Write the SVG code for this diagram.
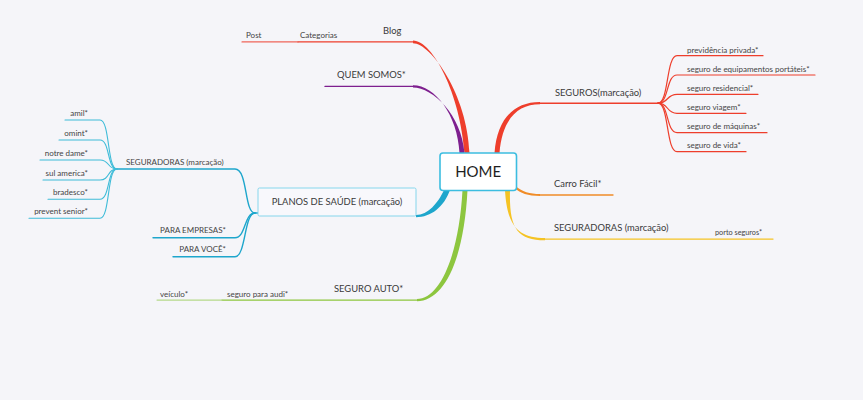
<svg xmlns="http://www.w3.org/2000/svg" width="863" height="400" viewBox="0 0 863 400">
<style>
text{font-family:Lato,"Liberation Sans",sans-serif;fill:#3a3a3a}
.m{font-size:9.4px}
.c{font-size:8px;fill:#444}
.s{font-size:7.3px;fill:#444}
.ln{fill:none;stroke-linecap:round}
.red{stroke:#ee3e2c}
.pur{stroke:#7e1f8f}
.cy{stroke:#1ea6cc}
.cyl{stroke:#3fbcd8}
.grn{stroke:#8dc63f}
.yel{stroke:#f5c324}
.org{stroke:#f08c28}
</style>
<rect width="863" height="400" fill="#f5f5f9"/>
<g id="connectors">
  <!-- main tapered branches -->
  <path d="M464.5,153 C460.5,95 433,40.6 413,40.6 L413,43.2 C431,43.2 467.5,95 469.5,153 Z" fill="#ee3e2c"/>
  <path d="M459.5,153 C457.5,115 435,85.3 413,85.3 L413,87.5 C433,87.5 461.5,115 464.5,153 Z" fill="#7e1f8f"/>
  <path d="M494.5,153 C497,120 513,102 540,102 L540,104.3 C517,104.3 502,120 499.5,153 Z" fill="#ee3e2c"/>
  <path d="M444,190 C438,203 428,215 416,215 L416,217.2 C431,217.2 444,207 450,190 Z" fill="#1ea6cc"/>
  <path d="M462.5,190 C459,255 440,299 417,299 L417,301.2 C444,301.2 464,260 467.5,190 Z" fill="#8dc63f"/>
  <path d="M505,190 C507,228 520,238 545,238 L545,240.2 C517,240.2 509,228 510,190 Z" fill="#f5c324"/>
  <path d="M515,185.5 C522,192 530,194 540,194 L540,196 C528,196 520,193 515,188.5 Z" fill="#f08c28"/>

  <!-- underlines of main nodes -->
  <path class="ln red" stroke-width="1.4" d="M413,41.9 H298"/>
  <path class="ln" stroke="#f0655a" stroke-width="1.1" d="M298,41.9 H242"/>
  <path class="ln pur" stroke-width="1.4" d="M413,86.4 H325"/>
  <path class="ln red" stroke-width="1.4" d="M540,103.2 H658"/>
  <path class="ln org" stroke-width="1.3" d="M540,195 H613"/>
  <path class="ln yel" stroke-width="1.3" d="M545,239.1 H773"/>
  <path class="ln grn" stroke-width="1.4" d="M417,300.1 H222"/>
  <path class="ln" stroke="#b5d98a" stroke-width="1.1" d="M222,300.1 H157"/>

  <!-- SEGUROS children -->
  <g class="ln red" stroke-width="1.2">
    <path d="M658,103.2 C669,103.2 666,55.7 677,55.7 H763"/>
    <path d="M658,103.2 C669,103.2 666,75 677,75 H815"/>
    <path d="M658,103.2 C669,103.2 666,94.3 677,94.3 H758"/>
    <path d="M658,103.2 C669,103.2 666,113.3 677,113.3 H746"/>
    <path d="M658,103.2 C669,103.2 666,132.7 677,132.7 H767"/>
    <path d="M658,103.2 C669,103.2 666,151.7 677,151.7 H746"/>
  </g>

  <!-- PLANOS children -->
  <g class="ln cy" stroke-width="1.4">
    <path d="M255,213 C244,213 248,169 235,169 H117"/>
    <path d="M255,213 C244,213 246,237.7 235,237.7 H153"/>
    <path d="M255,213 C244,213 246,256.7 235,256.7 H173"/>
    <path d="M255,213 H258"/>
  </g>

  <!-- SEGURADORAS (left) children -->
  <g class="ln cyl" stroke-width="1.1">
    <path d="M117,169 C107,169 110,120 100,120 H65"/>
    <path d="M117,169 C107,169 110,140 100,140 H59"/>
    <path d="M117,169 C107,169 110,160 100,160 H40"/>
    <path d="M117,169 C107,169 110,180 100,180 H43"/>
    <path d="M117,169 C107,169 110,199.3 100,199.3 H48"/>
    <path d="M117,169 C107,169 110,218.3 100,218.3 H29"/>
  </g>
</g>

<g id="home">
  <rect x="440" y="153" width="76.5" height="37.5" rx="3" fill="#ffffff" stroke="#3cbde0" stroke-width="1.6"/>
  <text x="478.2" y="177" font-size="15" text-anchor="middle" style="fill:#1e1e1e">HOME</text>
</g>

<g id="blog"><text class="m" x="383" y="34">Blog</text></g>
<g id="categorias"><text class="c" x="300" y="38">Categorias</text></g>
<g id="post"><text class="c" x="246" y="38">Post</text></g>
<g id="quem-somos"><text class="m" x="337" y="78">QUEM SOMOS*</text></g>

<g id="seguros"><text class="m" x="555" y="96">SEGUROS(marcação)</text></g>
<g id="previdencia"><text class="c" x="687" y="52.5">previdência privada*</text></g>
<g id="equipamentos"><text class="c" x="687" y="71.5">seguro de equipamentos portáteis*</text></g>
<g id="residencial"><text class="c" x="687" y="90.5">seguro residencial*</text></g>
<g id="viagem"><text class="c" x="687" y="109.5">seguro viagem*</text></g>
<g id="maquinas"><text class="c" x="687" y="128.5">seguro de máquinas*</text></g>
<g id="vida"><text class="c" x="687" y="147.5">seguro de vida*</text></g>

<g id="carro-facil"><text class="m" x="554" y="187">Carro Fácil*</text></g>
<g id="seguradoras-right"><text class="m" x="554" y="231">SEGURADORAS (marcação)</text></g>
<g id="porto"><text class="s" x="715" y="235">porto seguros*</text></g>

<g id="planos">
  <rect x="258" y="188" width="158" height="28" rx="1.5" fill="#f8f8fc" stroke="#86d6ec" stroke-width="1"/>
  <text class="m" x="337" y="205" text-anchor="middle">PLANOS DE SAÚDE (marcação)</text>
</g>
<g id="seguradoras-left"><text class="c" x="126" y="165">SEGURADORAS (marcação)</text></g>
<g id="para-empresas"><text class="c" x="226" y="233" text-anchor="end">PARA EMPRESAS*</text></g>
<g id="para-voce"><text class="c" x="226" y="252" text-anchor="end">PARA VOCÊ*</text></g>
<g id="amil"><text class="c" x="88" y="116" text-anchor="end">amil*</text></g>
<g id="omint"><text class="c" x="88" y="136" text-anchor="end">omint*</text></g>
<g id="notre-dame"><text class="c" x="88" y="156" text-anchor="end">notre dame*</text></g>
<g id="sul-america"><text class="c" x="88" y="176" text-anchor="end">sul america*</text></g>
<g id="bradesco"><text class="c" x="88" y="195" text-anchor="end">bradesco*</text></g>
<g id="prevent-senior"><text class="c" x="88" y="214" text-anchor="end">prevent senior*</text></g>

<g id="seguro-auto"><text class="m" x="334" y="292">SEGURO AUTO*</text></g>
<g id="seguro-audi"><text class="c" x="227" y="297">seguro para audi*</text></g>
<g id="veiculo"><text class="c" x="160" y="297">veículo*</text></g>
</svg>
